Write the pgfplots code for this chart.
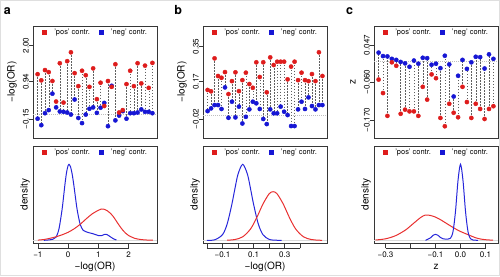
\documentclass[border=0pt]{standalone}
\usepackage{pgfplots}
\pgfplotsset{compat=1.18}
\usepackage{pgfplotstable}
\usepackage{fontspec}
\setmainfont{TeX Gyre Heros}

\definecolor{rpt}{RGB}{222,28,28}
\definecolor{bpt}{RGB}{22,22,212}
\definecolor{rln}{RGB}{232,48,48}
\definecolor{bln}{RGB}{38,38,218}
\definecolor{axc}{RGB}{55,55,55}

\pgfplotstableread{
i r b
1 1.16 -0.14
2 0.98 -0.33
3 1.28 0.02
4 1.22 0.11
5 0.96 0.59
6 0.36 0.19
7 1.48 0.07
8 0.33 0.06
9 1.54 0.04
10 1.80 -0.02
11 1.19 0.42
12 0.81 -0.12
13 1.26 -0.27
14 1.13 -0.02
15 0.79 0.15
16 1.33 0.19
17 0.43 0.03
18 0.91 0.18
19 0.23 0.32
20 0.96 -0.36
21 0.79 0.82
22 1.45 -0.19
23 0.04 -0.05
24 0.11 0.08
25 0.87 -0.14
26 1.26 0.02
27 0.81 0.02
28 1.48 0.04
29 0.89 0.13
30 1.41 0.06
31 0.76 0.06
32 1.49 0.02
}\topA

\pgfplotstableread{
i r b
1 0.128 0.020
2 0.121 0.034
3 0.289 0.051
4 0.199 0.051
5 0.190 0.031
6 0.219 0.141
7 0.107 -0.014
8 0.173 0.068
9 0.218 -0.012
10 0.122 0.043
11 0.178 -0.043
12 0.216 -0.009
13 0.158 0.029
14 0.139 0.068
15 0.269 0.060
16 0.194 0.031
17 0.269 -0.020
18 0.116 -0.046
19 0.294 0.029
20 0.255 0.009
21 0.272 0.009
22 0.272 0.043
23 0.272 0.017
24 0.182 0.000
25 0.247 -0.056
26 0.272 -0.056
27 0.178 0.029
28 0.216 0.068
29 0.178 0.031
30 0.173 0.090
31 0.209 0.046
32 0.173 0.029
33 0.320 0.051
34 0.199 0.051
}\topB

\pgfplotstableread{
i r b
1 -0.053 0.025
2 -0.092 0.015
3 -0.158 0.014
4 -0.003 0.007
5 -0.013 0.004
6 -0.152 -0.002
7 -0.140 -0.006
8 -0.145 -0.016
9 -0.145 0.002
10 -0.158 -0.007
11 -0.074 0.010
12 -0.111 0.009
13 -0.038 -0.010
14 -0.049 -0.007
15 -0.164 -0.020
16 -0.188 0.016
17 -0.123 -0.009
18 -0.149 -0.102
19 -0.162 -0.042
20 -0.074 0.004
21 -0.118 -0.022
22 -0.164 -0.003
23 -0.123 0.013
24 -0.138 0.012
25 -0.167 -0.021
26 -0.138 0.020
27 -0.130 0.007
}\topC

\pgfplotstableread{
x y
-0.80 0.0
-0.70 0.2
-0.60 0.5
-0.50 1.1
-0.40 3.1
-0.30 11.6
-0.20 30.5
-0.15 43.4
-0.10 56.8
-0.05 68.0
0.00 74.8
0.03 76.0
0.08 73.6
0.13 67.0
0.18 57.4
0.23 46.1
0.30 30.6
0.40 16.0
0.50 10.0
0.60 8.5
0.70 7.5
0.80 6.8
0.90 5.8
1.00 4.8
1.10 4.6
1.20 5.8
1.25 6.0
1.30 5.5
1.40 3.5
1.50 1.5
1.60 0.3
}\denAb

\pgfplotstableread{
x y
-1.0 0.2
-0.8 0.8
-0.6 2.0
-0.4 3.5
-0.2 5.5
0.0 8.0
0.2 11.5
0.4 16.0
0.6 21.5
0.8 26.5
1.0 30.0
1.1 31.3
1.2 31.0
1.3 29.5
1.4 27.0
1.5 23.5
1.6 19.0
1.7 14.5
1.8 10.5
1.9 7.2
2.0 4.8
2.2 2.0
2.4 0.8
2.6 0.3
2.8 0.1
}\denAr

\pgfplotstableread{
x y
-0.20 0.0
-0.15 0.5
-0.10 5.6
-0.07 16.3
-0.04 35.8
-0.02 51.7
0.00 66.2
0.03 76.0
0.06 66.2
0.08 51.7
0.10 35.8
0.13 16.3
0.16 5.6
0.20 0.9
0.25 0.05
0.28 0.0
}\denBb

\pgfplotstableread{
x y
-0.07 0.1
-0.02 0.8
0.03 3.5
0.08 11.3
0.12 22.7
0.16 36.3
0.20 46.6
0.225 48.6
0.25 46.6
0.29 36.3
0.33 22.7
0.37 11.3
0.42 3.5
0.47 0.8
0.52 0.1
0.54 0.0
}\denBr

\pgfplotstableread{
x y
-0.34 0.3
-0.30 1.5
-0.26 4.6
-0.22 10.3
-0.19 16.5
-0.16 22.7
-0.14 25.3
-0.12 24.8
-0.10 23.2
-0.08 20.6
-0.06 17.5
-0.04 14.4
-0.02 11.4
0.00 8.8
0.02 6.7
0.04 4.6
0.06 2.6
0.08 1.3
0.10 0.6
0.13 0.1
}\denCr

\pgfplotstableread{
x y
-0.14 0.0
-0.12 2.5
-0.11 5.0
-0.10 6.0
-0.09 5.0
-0.08 2.8
-0.07 1.5
-0.06 1.2
-0.05 1.2
-0.04 2.1
-0.03 8.7
-0.02 29.0
-0.01 59.7
0.00 76.0
0.01 59.7
0.02 29.0
0.03 8.7
0.04 1.6
0.05 0.3
0.07 0.0
}\denCb

\pgfplotsset{
  legend image code/.code={\fill[#1, draw=none] (0pt,-2.4pt) rectangle (4.8pt,2.4pt);},
  rbase/.style={scale only axis, width=124pt, clip=false,
    axis line style={axc,line width=0.6pt},
    every tick/.append style={axc,line width=0.6pt},
    tick align=outside, major tick length=4pt,
    tick label style={font=\fontsize{8}{9}\selectfont},
    label style={font=\fontsize{10}{11}\selectfont},
    legend columns=2,
    legend style={draw=none, fill=none, at={(0.5,1)}, anchor=north, yshift=-2.5pt,
      font=\fontsize{7.5}{8}\selectfont, inner sep=0pt, nodes={inner sep=0.6pt},
      /tikz/every odd column/.style={column sep=6.5pt},
      /tikz/every even column/.style={column sep=8.5pt}},
  },
  toppan/.style={height=112pt, xtick=\empty, ytick pos=left,
    yticklabel style={rotate=90, anchor=south, inner sep=0pt},
    ylabel style={at={([xshift=-21pt]axis description cs:0,0.5)}, anchor=center},
  },
  botpan/.style={height=97pt, ytick=\empty, xtick pos=bottom,
    xtick style={draw=none},
    xticklabel style={anchor=north, inner sep=0pt, yshift=-5pt},
    ylabel style={at={([xshift=-8pt]axis description cs:0,0.5)}, anchor=center},
    xlabel style={at={([yshift=-24pt]axis description cs:0.5,0)}, anchor=center},
    ymin=-2.7, ymax=94.3,
  },
  dashc/.style={gray!75!black, line width=0.4pt, dash pattern=on 1.5pt off 1.5pt, quiver={u=0, v=\thisrow{b}-\thisrow{r}}},
  zl/.style={gray!50, line width=0.5pt, dash pattern=on 0.8pt off 1.2pt},
  rp/.style={only marks, mark=*, mark size=2.1pt, rpt, mark options={draw=rpt, fill=rpt}},
  bp/.style={only marks, mark=*, mark size=2.1pt, bpt, mark options={draw=bpt, fill=bpt}},
}

\newcommand{\leg}{%
  \addlegendimage{fill=rpt}\addlegendentry{'pos' contr.}
  \addlegendimage{fill=bpt}\addlegendentry{'neg' contr.}}

\begin{document}
\begin{tikzpicture}
\useasboundingbox (0,0) rectangle (500pt,276pt);
\draw[gray!25, line width=1pt] (0.5pt,0.5pt) rectangle (499.5pt,275.5pt);

\node[font=\bfseries\fontsize{12.5}{13}\selectfont, anchor=base] at (7.3pt,261pt) {a};
\node[font=\bfseries\fontsize{12.5}{13}\selectfont, anchor=base] at (178.3pt,261pt) {b};
\node[font=\bfseries\fontsize{12.5}{13}\selectfont, anchor=base] at (349.7pt,261pt) {c};

% ---------- a top
\begin{axis}[rbase, toppan, at={(33pt,250pt)}, anchor=north west,
  xmin=-0.24, xmax=33.24, ymin=-0.705, ymax=2.568,
  ytick={-0.15,0.94,2.00}, yticklabels={−0.15,0.94,2.00}, ylabel={−log(OR)}]
\leg
\addplot[zl, forget plot] coordinates {(-0.24,0) (33.24,0)};
\addplot[dashc, forget plot] table[x=i, y=r] {\topA};
\addplot[bp, forget plot] table[x=i, y=b] {\topA};
\addplot[rp, forget plot] table[x=i, y=r] {\topA};
\end{axis}

% ---------- b top
\begin{axis}[rbase, toppan, at={(203pt,250pt)}, anchor=north west,
  xmin=-0.32, xmax=35.32, ymin=-0.117, ymax=0.454,
  ytick={-0.02,0.17,0.35}, yticklabels={−0.02,0.17,0.35}, ylabel={−log(OR)}]
\leg
\addplot[zl, forget plot] coordinates {(-0.32,0) (35.32,0)};
\addplot[dashc, forget plot] table[x=i, y=r] {\topB};
\addplot[bp, forget plot] table[x=i, y=b] {\topB};
\addplot[rp, forget plot] table[x=i, y=r] {\topB};
\end{axis}

% ---------- c top
\begin{axis}[rbase, toppan, at={(374pt,250pt)}, anchor=north west,
  xmin=-0.04, xmax=28.04, ymin=-0.222, ymax=0.102,
  ytick={-0.170,-0.060,0.047}, yticklabels={−0.170,−0.060,0.047}, ylabel={z}]
\leg
\addplot[zl, forget plot] coordinates {(-0.04,0) (28.04,0)};
\addplot[dashc, forget plot] table[x=i, y=r] {\topC};
\addplot[bp, forget plot] table[x=i, y=b] {\topC};
\addplot[rp, forget plot] table[x=i, y=r] {\topC};
\end{axis}

% ---------- a bottom
\begin{axis}[rbase, botpan, at={(33pt,130pt)}, anchor=north west,
  xmin=-1.16, xmax=2.94, xtick={-1,0,1,2}, xticklabels={−1,0,1,2},
  xlabel={−log(OR)}, ylabel={density}]
\leg
\addplot[gray!30, line width=0.8pt, forget plot] coordinates {(-1.16,0) (2.94,0)};
\addplot[bln, line width=1pt, smooth, forget plot] table {\denAb};
\addplot[rln, line width=1pt, smooth, forget plot] table {\denAr};
\pgfplotsinvokeforeach{-1,0,1,2}{\draw[axc, line width=0.6pt] ([yshift=-5.3pt]axis cs:#1,-2.7) -- ([yshift=-1pt]axis cs:#1,-2.7);}
\draw[axc, line width=0.6pt] ([yshift=-5.3pt]axis cs:-1,-2.7) -- ([yshift=-5.3pt]axis cs:2,-2.7);
\end{axis}

% ---------- b bottom
\begin{axis}[rbase, botpan, at={(203pt,130pt)}, anchor=north west,
  xmin=-0.225, xmax=0.571, xtick={-0.1,0.1,0.3}, xticklabels={−0.1,0.1,0.3},
  xlabel={−log(OR)}, ylabel={density}]
\leg
\addplot[gray!30, line width=0.8pt, forget plot] coordinates {(-0.225,0) (0.571,0)};
\addplot[bln, line width=1pt, smooth, forget plot] table {\denBb};
\addplot[rln, line width=1pt, smooth, forget plot] table {\denBr};
\pgfplotsinvokeforeach{-0.2,-0.1,0,0.1,0.2,0.3,0.4}{\draw[axc, line width=0.6pt] ([yshift=-5.3pt]axis cs:#1,-2.7) -- ([yshift=-1pt]axis cs:#1,-2.7);}
\draw[axc, line width=0.6pt] ([yshift=-5.3pt]axis cs:-0.2,-2.7) -- ([yshift=-5.3pt]axis cs:0.4,-2.7);
\end{axis}

% ---------- c bottom
\begin{axis}[rbase, botpan, at={(374pt,130pt)}, anchor=north west,
  xmin=-0.346, xmax=0.150, xtick={-0.3,-0.1,0,0.1}, xticklabels={−0.3,−0.1,0.0,0.1},
  xlabel={z}, ylabel={density}]
\leg
\addplot[gray!30, line width=0.8pt, forget plot] coordinates {(-0.346,0) (0.150,0)};
\addplot[rln, line width=1pt, smooth, forget plot] table {\denCr};
\addplot[bln, line width=1pt, smooth, forget plot] table {\denCb};
\pgfplotsinvokeforeach{-0.3,-0.2,-0.1,0,0.1}{\draw[axc, line width=0.6pt] ([yshift=-5.3pt]axis cs:#1,-2.7) -- ([yshift=-1pt]axis cs:#1,-2.7);}
\draw[axc, line width=0.6pt] ([yshift=-5.3pt]axis cs:-0.3,-2.7) -- ([yshift=-5.3pt]axis cs:0.1,-2.7);
\end{axis}
\end{tikzpicture}
\end{document}
